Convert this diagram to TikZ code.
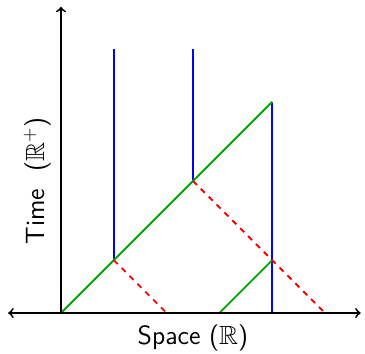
\documentclass[tikz,border=0pt]{standalone}
\usepackage{amssymb}
\begin{document}
\begin{tikzpicture}[x=0.5cm,y=0.5cm,
  axis/.style={line width=1pt,black},
  wall/.style={line width=1pt,blue},
  front/.style={line width=1pt,green!65!black},
  refl/.style={line width=1pt,red,dashed},
  lbl/.style={font=\sffamily\fontsize{14.2}{17}\selectfont}]
\useasboundingbox (-2.311,-1.553) rectangle (11.515,11.856);
\coordinate (O) at (0,0);
\coordinate (xl) at (-2,0);
\coordinate (xr) at (11.35,0);
\coordinate (yt) at (0,11.6);
\coordinate (a0) at (2,2); \coordinate (a1) at (2,10);
\coordinate (b0) at (5,5); \coordinate (b1) at (5,10);
\coordinate (c0) at (8,0); \coordinate (c1) at (8,8);
\coordinate (g0) at (6,0); \coordinate (g1) at (8,2);
\coordinate (r1) at (4,0); \coordinate (r2) at (10,0);
\draw[wall] (a0) -- (a1);
\draw[wall] (b0) -- (b1);
\draw[wall] (c0) -- (c1);
\draw[front] (O) -- (c1);
\draw[front] (g0) -- (g1);
\draw[refl] (a0) -- (r1);
\draw[refl] (b0) -- (r2);
\draw[axis,<->] (xl) -- (xr);
\draw[axis,->] (O) -- (yt);
\node[lbl] (xlab) at (5,-0.95) {Space ($\mathbb{R}$)};
\node[lbl,rotate=90] (ylab) at (-0.9,5) {Time\ \ ($\mathbb{R}^+$)};
\end{tikzpicture}
\end{document}
